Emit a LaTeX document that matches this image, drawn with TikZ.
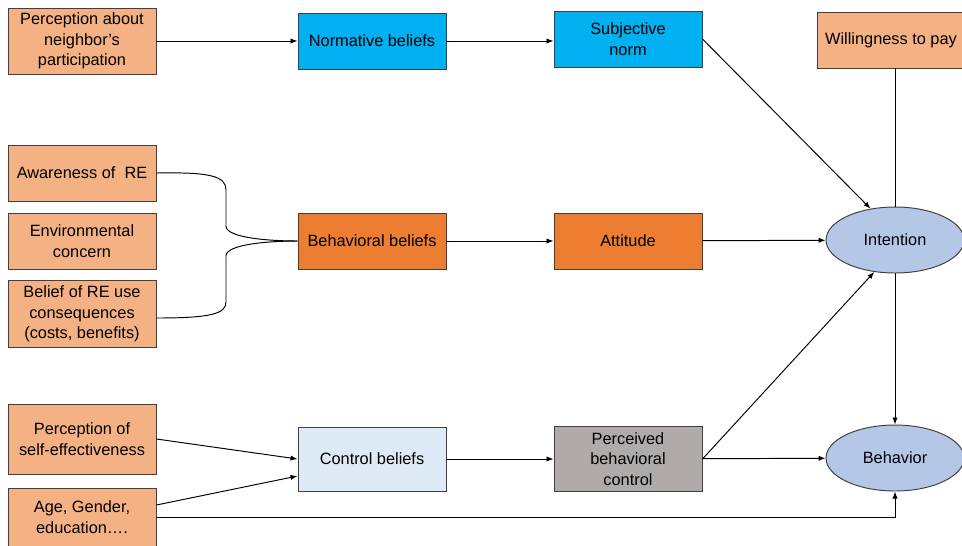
\documentclass[tikz,border=0pt]{standalone}
\usepackage{fontspec}
\setmainfont{Liberation Sans}
\usetikzlibrary{arrows.meta,shapes.geometric}
\definecolor{salmon}{HTML}{F4B183}
\definecolor{skyblue}{HTML}{00B0F0}
\definecolor{orangebox}{HTML}{ED7D31}
\definecolor{paleblue}{HTML}{DEEBF7}
\definecolor{greybox}{HTML}{AFABAB}
\definecolor{ellblue}{HTML}{B4C7E7}
\begin{document}
\begin{tikzpicture}[x=0.02cm,y=-0.02cm,
    font=\fontsize{9.3}{11.6}\selectfont,
    box/.style={draw=black!75,line width=0.55pt,align=center,minimum width=2.96cm,minimum height=1.12cm,inner sep=1pt},
    oval/.style={draw=black!75,line width=0.55pt,ellipse,fill=ellblue,minimum width=2.76cm,minimum height=1.32cm,inner sep=0pt},
    link/.style={-{Latex[length=4pt,width=3pt]},line width=0.55pt},
    plain/.style={line width=0.55pt}]
  \useasboundingbox (0,0) rectangle (962,545);
  % factors on the left
  \node[box,fill=salmon,minimum height=1.32cm] (neigh) at (82,41) {Perception about\\neighbor's\\participation};
  \node[box,fill=salmon] (aware) at (82,173) {Awareness of \ RE};
  \node[box,fill=salmon] (envir) at (82,241) {Environmental\\concern};
  \node[box,fill=salmon,minimum height=1.34cm] (conseq) at (82,314) {Belief of RE use\\consequences\\(costs, benefits)};
  \node[box,fill=salmon,minimum height=1.4cm] (selfeff) at (82,439) {Perception of\\self-effectiveness};
  \node[box,fill=salmon,minimum height=1.16cm] (demo) at (82,517) {Age, Gender,\\education\dots.};
  % beliefs
  \node[box,fill=skyblue] (norm) at (372,41) {Normative beliefs};
  \node[box,fill=orangebox] (behbel) at (372,241) {Behavioral beliefs};
  \node[box,fill=paleblue,minimum height=1.28cm] (ctrl) at (372,459) {Control beliefs};
  % TPB constructs
  \node[box,fill=skyblue] (subj) at (628,39) {Subjective\\norm};
  \node[box,fill=orangebox] (att) at (628,241) {Attitude};
  \node[box,fill=greybox,minimum height=1.3cm] (pbc) at (628,459) {Perceived\\behavioral\\control};
  \node[box,fill=salmon] (wtp) at (891,40) {Willingness to pay};
  \node[oval] (int) at (895,240) {Intention};
  \node[oval] (beh) at (895,458) {Behavior};
  % connectors
  \draw[link] (neigh) -- (norm);
  \draw[link] (norm.east) -- (subj.west |- norm.east);
  \draw[plain] (aware.east) .. controls (210,172) and (226,176) .. (226,190) -- (226,226)
    .. controls (226,238) and (270,241) .. (behbel.west);
  \draw[plain] (conseq.east |- 0,318) .. controls (210,318) and (226,314) .. (226,302) -- (226,256)
    .. controls (226,244) and (270,241) .. (behbel.west);
  \draw[link] (behbel) -- (att);
  \draw[link] (selfeff.east) -- (ctrl.west |- 0,459);
  \draw[link] (demo.east |- 0,505) -- (ctrl.west |- 0,476);
  \draw[link] (ctrl) -- (pbc);
  \draw[link] (subj.east) -- (int.128);
  \draw[link] (att) -- (int);
  \draw[link] (pbc.east) -- (int.237);
  \draw[link] (pbc) -- (beh);
  \draw[plain] (wtp.south -| int.north) -- (int.north);
  \draw[link] (int) -- (beh);
  \draw[link] (demo.east |- 0,517) -| (beh.south);
\end{tikzpicture}
\end{document}
